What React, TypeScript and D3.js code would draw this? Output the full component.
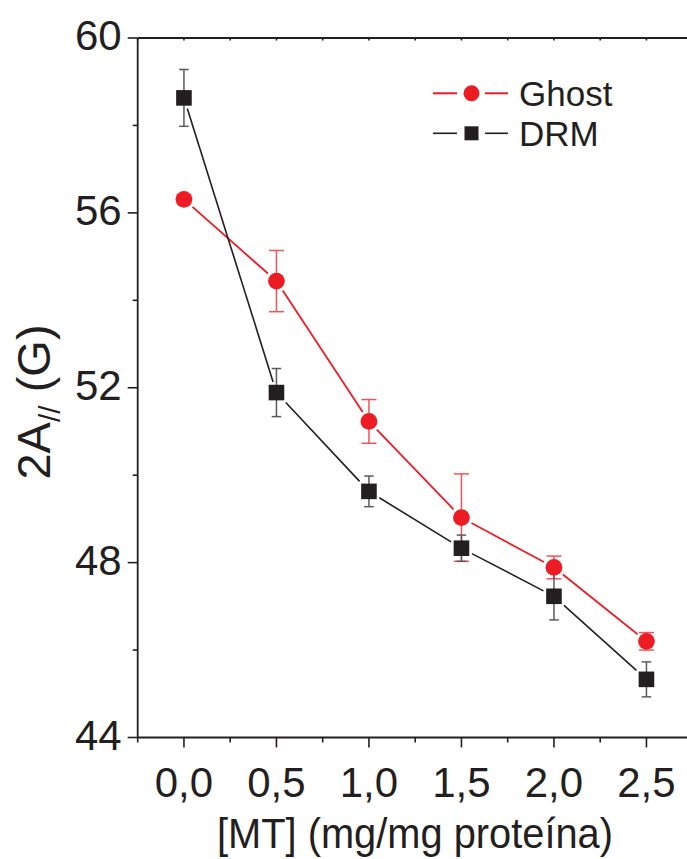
import React from "react";
import * as d3 from "d3";

const concentrations = [0, 0.5, 1.0, 1.5, 2.0, 2.5];
const ghostValues = [56.31, 54.44, 51.23, 49.03, 47.89, 46.2];
const ghostErrors = [0.1, 0.7, 0.5, 1.0, 0.26, 0.2];
const drmValues = [58.63, 51.89, 49.63, 48.33, 47.23, 45.33];
const drmErrors = [0.65, 0.55, 0.35, 0.3, 0.54, 0.4];
const xTickValues = [0, 0.5, 1.0, 1.5, 2.0, 2.5];
const xTickLabels = ["0,0", "0,5", "1,0", "1,5", "2,0", "2,5"];
const yTickValues = [44, 48, 52, 56, 60];
const yTickLabels = ["44", "48", "52", "56", "60"];
const seriesNames = ["Ghost", "DRM"];

const W = 687;
const H = 859;
const FONT = "'Liberation Sans', Arial, Helvetica, sans-serif";
const RED = "#ed1c24";
const RED_ERR = "#f0545b";
const BLACK = "#231f20";
const GRAY_ERR = "#5a5a5a";

export default function App() {
  const x = d3.scaleLinear().domain([-0.25, 2.75]).range([137.7, 692.7]);
  const y = d3.scaleLinear().domain([44, 60]).range([737.5, 38]);
  const xMinor = d3.range(-0.25, 2.76, 0.25);
  const yMinor = d3.range(46, 60, 4);

  const circleR = 8.4;
  const squareHalf = 7.8;

  const segs = (vals: number[], kind: "c" | "s") => {
    const pts = concentrations.map((c, i) => [x(c), y(vals[i])]);
    const out: { x1: number; y1: number; x2: number; y2: number }[] = [];
    for (let i = 0; i < pts.length - 1; i++) {
      const [ax, ay] = pts[i];
      const [bx, by] = pts[i + 1];
      const dx = bx - ax;
      const dy = by - ay;
      const len = Math.hypot(dx, dy);
      const ux = dx / len;
      const uy = dy / len;
      const g =
        kind === "c"
          ? circleR + 3
          : squareHalf / Math.max(Math.abs(ux), Math.abs(uy)) + 3;
      out.push({ x1: ax + ux * g, y1: ay + uy * g, x2: bx - ux * g, y2: by - uy * g });
    }
    return out;
  };

  const ghostSegs = segs(ghostValues, "c");
  const drmSegs = segs(drmValues, "s");

  const errBars = (vals: number[], errs: number[], color: string, cap: number, key: string) =>
    concentrations.map((c, i) => {
      const cx = x(c);
      const yt = y(vals[i] + errs[i]);
      const yb = y(vals[i] - errs[i]);
      return (
        <g key={key + i} stroke={color} strokeWidth={1.5}>
          <line x1={cx} x2={cx} y1={yt} y2={yb} />
          <line x1={cx - cap / 2} x2={cx + cap / 2} y1={yt} y2={yt} />
          <line x1={cx - cap / 2} x2={cx + cap / 2} y1={yb} y2={yb} />
        </g>
      );
    });

  const axisY = y(44);
  const axisX = x(-0.25);

  return (
    <svg
      width={W}
      height={H}
      style={{ position: "absolute", left: 0, top: 0, background: "#fff" }}
      fontFamily={FONT}
    >
      <rect width={W} height={H} fill="#fff" />
      {/* frame */}
      <g stroke={BLACK} strokeWidth={1.8} fill="none">
        <line x1={axisX} x2={axisX} y1={y(60)} y2={axisY} />
        <line x1={axisX} x2={x(2.75)} y1={axisY} y2={axisY} />
        <line x1={axisX} x2={x(2.75)} y1={y(60)} y2={y(60)} />
      </g>
      {/* ticks */}
      <g stroke={BLACK} strokeWidth={1.6}>
        {yTickValues.map((v) => (
          <line key={"yt" + v} x1={axisX - 10} x2={axisX} y1={y(v)} y2={y(v)} />
        ))}
        {yMinor.map((v) => (
          <line key={"ym" + v} x1={axisX - 5} x2={axisX} y1={y(v)} y2={y(v)} />
        ))}
        {xTickValues.map((v) => (
          <line key={"xt" + v} x1={x(v)} x2={x(v)} y1={axisY} y2={axisY + 10} />
        ))}
        {xMinor
          .filter((v) => !xTickValues.some((t) => Math.abs(t - v) < 1e-6))
          .map((v) => (
            <line key={"xm" + v} x1={x(v)} x2={x(v)} y1={axisY} y2={axisY + 5} />
          ))}
        {xMinor.map((v) => (
          <line key={"xtop" + v} x1={x(v)} x2={x(v)} y1={y(60)} y2={y(60) + 2.5} />
        ))}
      </g>
      {/* tick labels */}
      <g fill={BLACK} fontSize={42}>
        {yTickValues.map((v, i) => (
          <text key={"yl" + v} x={axisX - 16} y={y(v) + 12} textAnchor="end">
            {yTickLabels[i]}
          </text>
        ))}
        {xTickValues.map((v, i) => (
          <text key={"xl" + v} x={x(v)} y={797} textAnchor="middle">
            {xTickLabels[i]}
          </text>
        ))}
      </g>
      {/* axis titles */}
      <text
        x={415}
        y={848}
        textAnchor="middle"
        fontSize={42}
        fill={BLACK}
        textLength={396}
        lengthAdjust="spacingAndGlyphs"
      >
        [MT] (mg/mg proteína)
      </text>
      <text
        transform={`translate(50,402) rotate(-90)`}
        textAnchor="middle"
        fontSize={47}
        fill={BLACK}
      >
        2A
        <tspan fontSize={30} dy={10}>//</tspan>
        <tspan dy={-10}> (G)</tspan>
      </text>
      {/* lines */}
      <g strokeWidth={1.8}>
        {ghostSegs.map((s, i) => (
          <line key={"gs" + i} {...s} stroke={RED} />
        ))}
        {drmSegs.map((s, i) => (
          <line key={"ds" + i} {...s} stroke={BLACK} strokeWidth={1.6} />
        ))}
      </g>
      {/* error bars */}
      {errBars(ghostValues, ghostErrors, RED_ERR, 15, "ge")}
      {errBars(drmValues, drmErrors, GRAY_ERR, 9.5, "de")}
      {/* markers */}
      {concentrations.map((c, i) => (
        <circle key={"gc" + i} cx={x(c)} cy={y(ghostValues[i])} r={circleR} fill={RED} />
      ))}
      {concentrations.map((c, i) => (
        <rect
          key={"dr" + i}
          x={x(c) - squareHalf}
          y={y(drmValues[i]) - squareHalf}
          width={squareHalf * 2}
          height={squareHalf * 2}
          fill={BLACK}
        />
      ))}
      {/* legend */}
      <g>
        <line x1={433} x2={457} y1={93.3} y2={93.3} stroke={RED} strokeWidth={2} />
        <line x1={485} x2={508} y1={93.3} y2={93.3} stroke={RED} strokeWidth={2} />
        <circle cx={471.5} cy={93.3} r={8} fill={RED} />
        <text x={519} y={105.5} fontSize={35} fill={BLACK}>
          {seriesNames[0]}
        </text>
        <line x1={433} x2={457} y1={133.3} y2={133.3} stroke={BLACK} strokeWidth={1.6} />
        <line x1={485} x2={508} y1={133.3} y2={133.3} stroke={BLACK} strokeWidth={1.6} />
        <rect x={464.5} y={126.3} width={14} height={14} fill={BLACK} />
        <text x={519} y={146} fontSize={35} fill={BLACK}>
          {seriesNames[1]}
        </text>
      </g>
    </svg>
  );
}
